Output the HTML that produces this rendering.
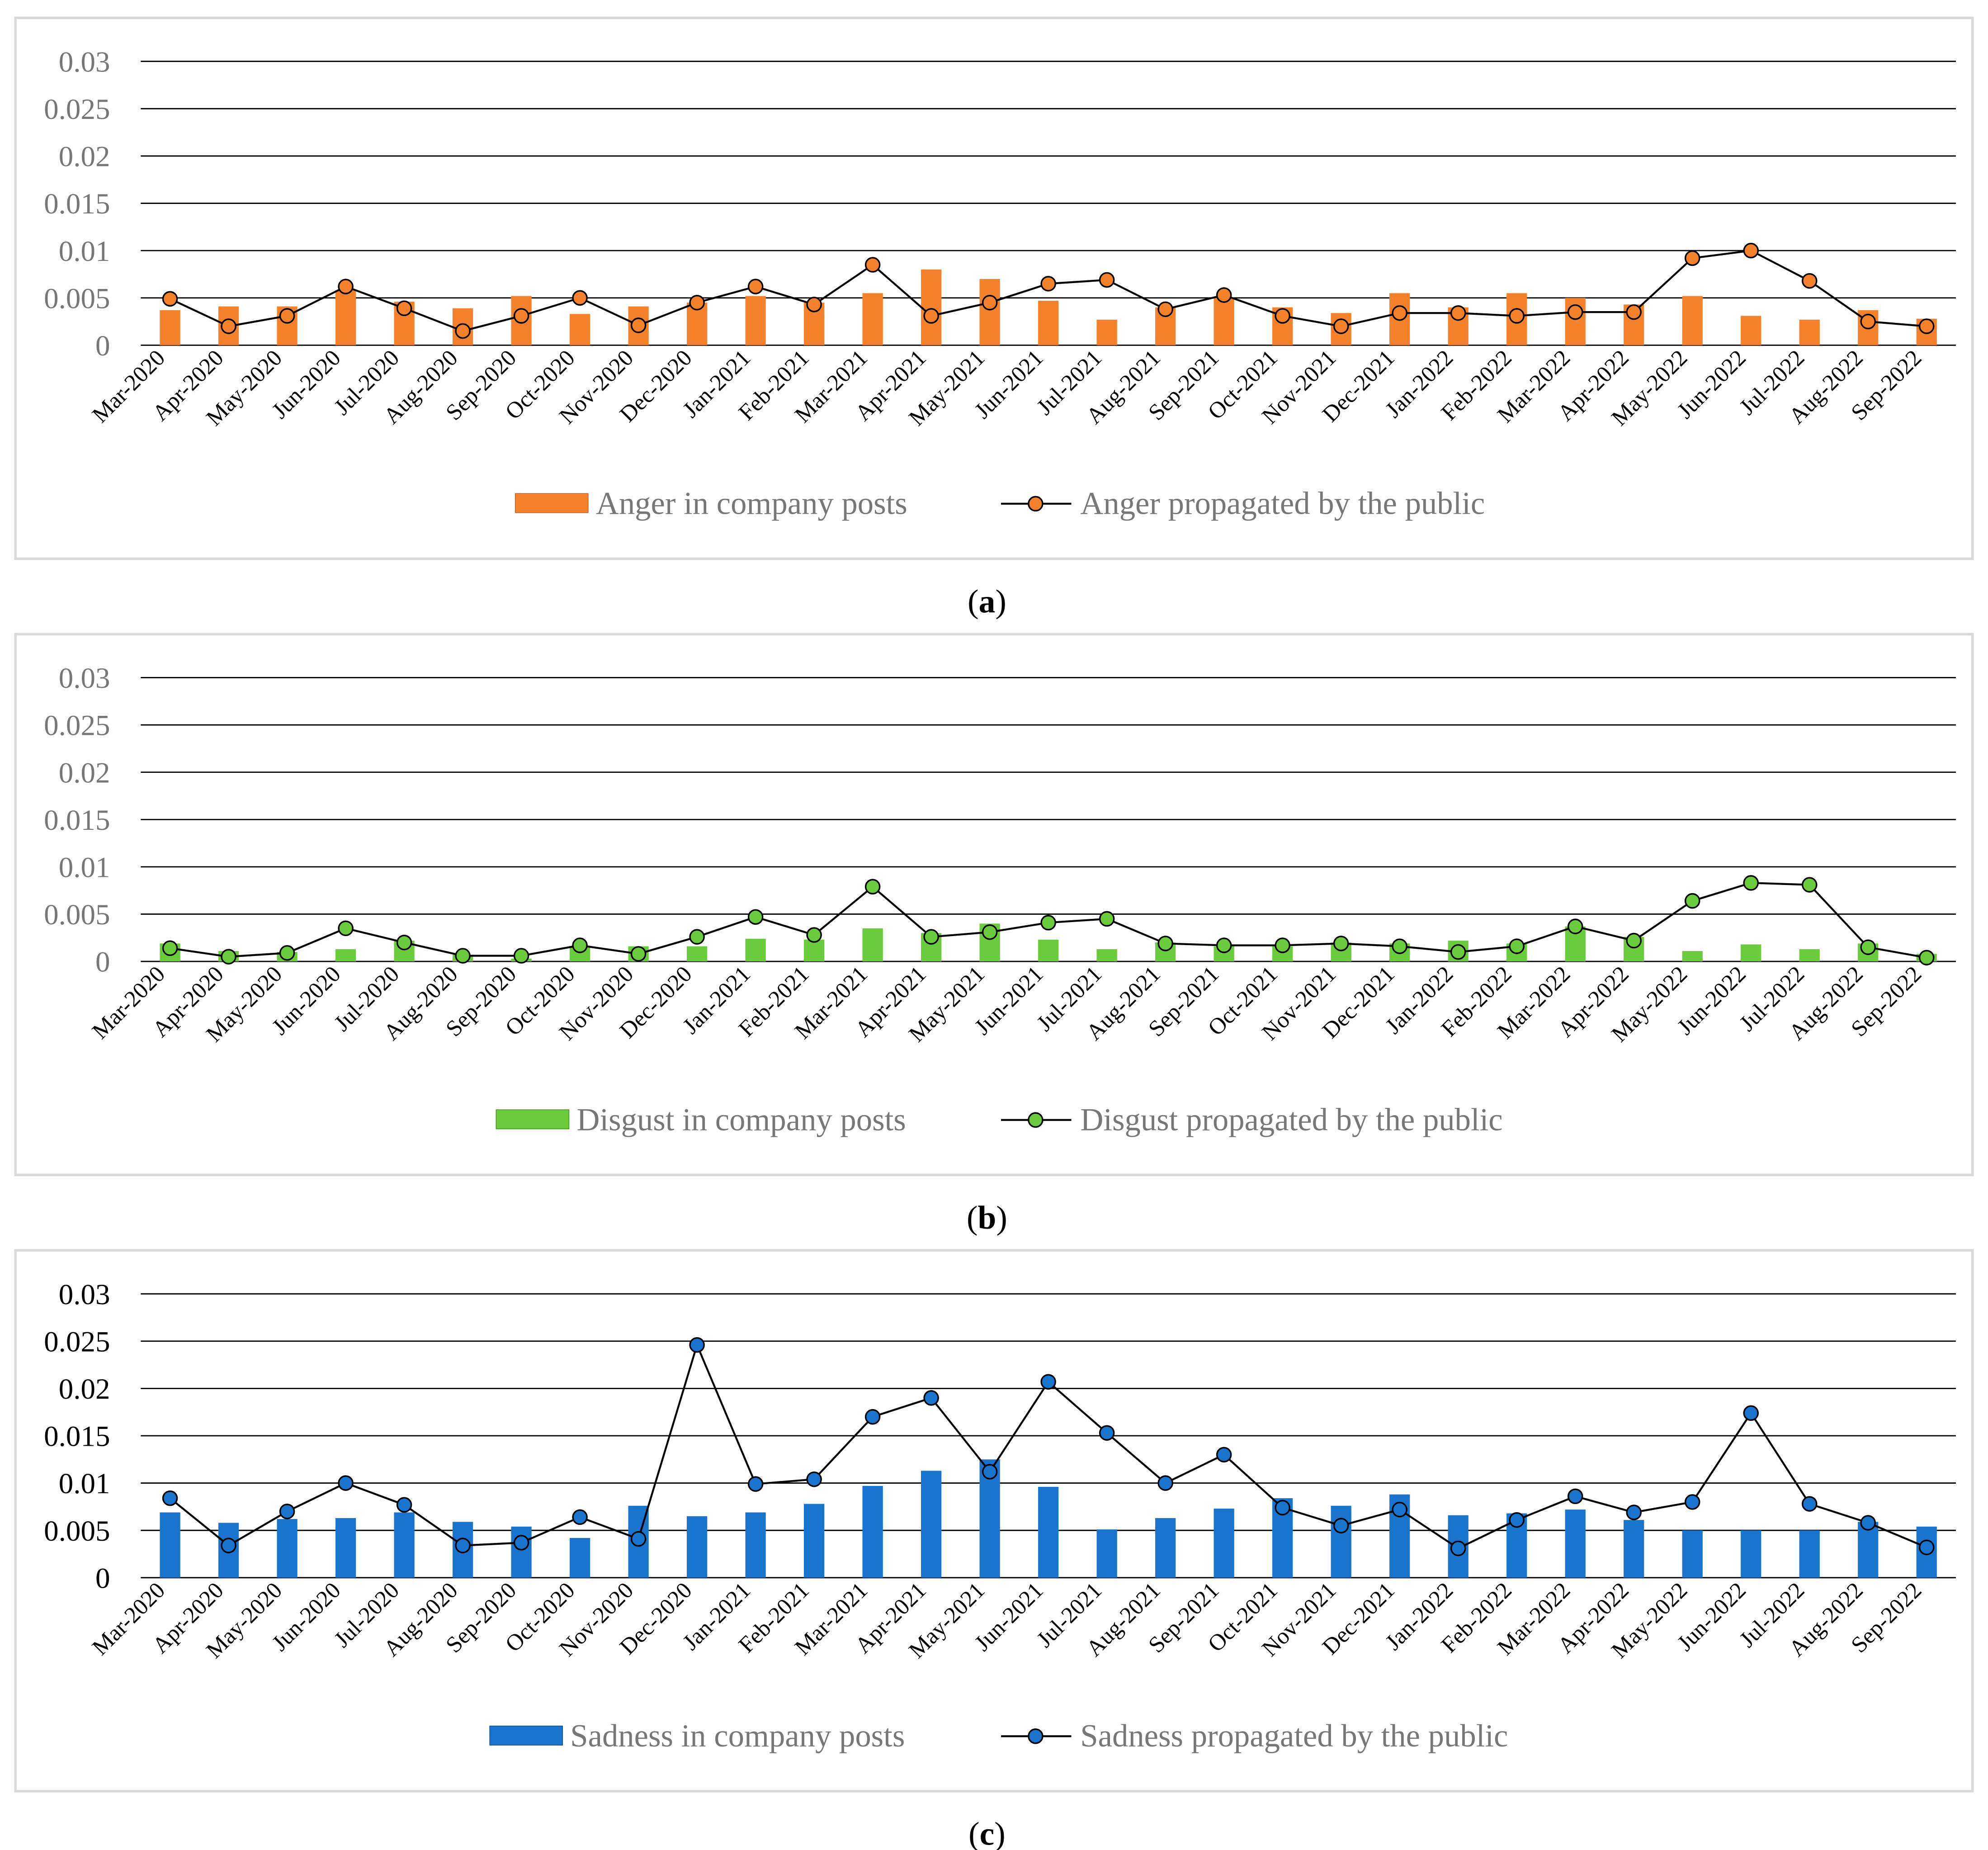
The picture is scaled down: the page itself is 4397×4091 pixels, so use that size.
<!DOCTYPE html>
<html><head><meta charset="utf-8"><style>
html,body{margin:0;padding:0;background:#fff;}
svg{display:block;}
text{font-family:"Liberation Serif",serif;}
</style></head><body>
<svg id="chart" width="4397" height="4091" viewBox="0 0 1555 1447" xmlns="http://www.w3.org/2000/svg"></svg>
<script>
const months = ["Mar-2020","Apr-2020","May-2020","Jun-2020","Jul-2020","Aug-2020","Sep-2020","Oct-2020","Nov-2020","Dec-2020","Jan-2021","Feb-2021","Mar-2021","Apr-2021","May-2021","Jun-2021","Jul-2021","Aug-2021","Sep-2021","Oct-2021","Nov-2021","Dec-2021","Jan-2022","Feb-2022","Mar-2022","Apr-2022","May-2022","Jun-2022","Jul-2022","Aug-2022","Sep-2022"];
const yTicks = [0,0.005,0.01,0.015,0.02,0.025,0.03];
const yTickLabels = ["0","0.005","0.01","0.015","0.02","0.025","0.03"];
const angerBars = [0.0037,0.0041,0.0041,0.0058,0.0046,0.0039,0.0052,0.0033,0.0041,0.0045,0.0052,0.0045,0.0055,0.008,0.007,0.0047,0.0027,0.004,0.005,0.004,0.0034,0.0055,0.004,0.0055,0.005,0.0043,0.0052,0.0031,0.0027,0.0037,0.0028];
const angerLine = [0.0049,0.002,0.0031,0.0062,0.0039,0.0015,0.0031,0.005,0.0021,0.0045,0.0062,0.0043,0.0085,0.0031,0.0045,0.0065,0.0069,0.0038,0.0053,0.0031,0.002,0.0034,0.0034,0.0031,0.0035,0.0035,0.0092,0.01,0.0068,0.0025,0.002];
const disgustBars = [0.0019,0.0011,0.001,0.0013,0.0022,0.0007,0.0003,0.0015,0.0016,0.0016,0.0024,0.0023,0.0035,0.003,0.004,0.0023,0.0013,0.002,0.0016,0.0016,0.002,0.0019,0.0022,0.0019,0.0037,0.0026,0.0011,0.0018,0.0013,0.0019,0.0008];
const disgustLine = [0.0014,0.0005,0.0009,0.0035,0.002,0.0006,0.0006,0.0017,0.0008,0.0026,0.0047,0.0028,0.0079,0.0026,0.0031,0.0041,0.0045,0.0019,0.0017,0.0017,0.0019,0.0016,0.001,0.0016,0.0037,0.0022,0.0064,0.0083,0.0081,0.0015,0.0004];
const sadnessBars = [0.0069,0.0058,0.0062,0.0063,0.0069,0.0059,0.0054,0.0042,0.0076,0.0065,0.0069,0.0078,0.0097,0.0113,0.0125,0.0096,0.0051,0.0063,0.0073,0.0084,0.0076,0.0088,0.0066,0.0068,0.0072,0.0061,0.005,0.005,0.005,0.0059,0.0054];
const sadnessLine = [0.0084,0.0034,0.007,0.01,0.0077,0.0034,0.0037,0.0064,0.0041,0.0246,0.0099,0.0104,0.017,0.019,0.0112,0.0207,0.0153,0.01,0.013,0.0074,0.0055,0.0072,0.0031,0.0061,0.0086,0.0069,0.008,0.0174,0.0078,0.0058,0.0032];

const NS="http://www.w3.org/2000/svg";
const svg=document.getElementById('chart');
function mk(tag,attrs,parent){const e=document.createElementNS(NS,tag);for(const k in attrs)e.setAttribute(k,attrs[k]);(parent||svg).appendChild(e);return e;}

const panels=[
 {id:'a',top:14,zero:270,bars:angerBars,line:angerLine,fill:'#F5812A',stroke:'#C55A11',tickColor:'#777',barLabel:'Anger in company posts',lineLabel:'Anger propagated by the public',legX1:403,legX2:783,name:'anger'},
 {id:'b',top:496,zero:752,bars:disgustBars,line:disgustLine,fill:'#6ACB3C',stroke:'#3E8E1F',tickColor:'#777',barLabel:'Disgust in company posts',lineLabel:'Disgust propagated by the public',legX1:388,legX2:783,name:'disgust'},
 {id:'c',top:978,zero:1234,bars:sadnessBars,line:sadnessLine,fill:'#1874CD',stroke:'#0F4C8A',tickColor:'#000',barLabel:'Sadness in company posts',lineLabel:'Sadness propagated by the public',legX1:383,legX2:783,name:'sadness'}
];
const x0=110,x1=1530,step=(x1-x0)/31;
function xC(i){return x0+step*(i+0.5);}
panels.forEach(p=>{
  const g=mk('g',{});
  
  
  const yS=v=>p.zero-v/0.03*222;
  const fr=mk('rect',{x:12,y:p.top,width:1531,height:423,fill:'none',stroke:'#d9d9d9','stroke-width':2},g);
  
  
  yTicks.forEach((t,i)=>{
    const y=yS(t);
    const ln=mk('line',{x1:x0,x2:x1,y1:y,y2:y,stroke:'#000','stroke-width':1},g);
    
    
    const tx=mk('text',{x:86,y:y+8,'text-anchor':'end','font-size':23,fill:p.tickColor},g);
    tx.textContent=yTickLabels[i];
    
    
  });
  p.bars.forEach((v,i)=>{
    const b=mk('rect',{x:xC(i)-8,y:yS(v),width:16,height:p.zero-yS(v),fill:p.fill},g);
    
    
  });
  const pts=p.line.map((v,i)=>xC(i)+','+yS(v)).join(' ');
  const pl=mk('polyline',{points:pts,fill:'none',stroke:'#000','stroke-width':1.5},g);
  
  
  p.line.forEach((v,i)=>{
    const c=mk('circle',{cx:xC(i),cy:yS(v),r:5.5,fill:p.fill,stroke:'#000','stroke-width':1.2},g);
    
    
  });
  months.forEach((m,i)=>{
    const x=xC(i)-3,y=p.zero+11;
    const t=mk('text',{x:x,y:y,'text-anchor':'end','font-size':18,fill:'#000',transform:`rotate(-45 ${x} ${y})`},g);
    t.textContent=m;
    
    
  });
  const ly=p.top+380;
  const lb=mk('rect',{x:p.legX1,y:ly-8,width:57,height:15,fill:p.fill,stroke:p.stroke,'stroke-width':0.5},g);
  
  
  const lt1=mk('text',{x:p.legX1+63,y:ly+8,'font-size':25,fill:'#777'},g);
  lt1.textContent=p.barLabel;
  
  
  const ll=mk('line',{x1:p.legX2,x2:p.legX2+55,y1:ly,y2:ly,stroke:'#000','stroke-width':1.5},g);
  
  
  const lc=mk('circle',{cx:p.legX2+27,cy:ly,r:5.5,fill:p.fill,stroke:'#000','stroke-width':1.2},g);
  
  
  const lt2=mk('text',{x:p.legX2+62,y:ly+8,'font-size':25,fill:'#777'},g);
  lt2.textContent=p.lineLabel;
  
  
  const cap=mk('text',{x:772,y:p.top+465,'text-anchor':'middle','font-size':26,fill:'#000'},g);
  cap.innerHTML='(<tspan font-weight="bold">'+p.id+'</tspan>)';
  
  
});
</script>
</body></html>
